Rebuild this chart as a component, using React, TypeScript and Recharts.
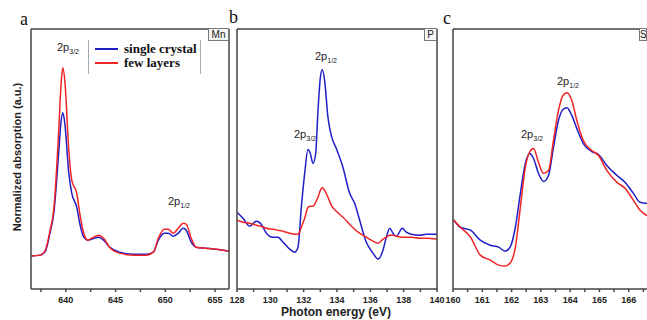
import { LineChart, Line, XAxis, YAxis, Legend } from 'recharts';

// Mn L-edge (panel a)
const mnEnergy = [636.5, 637.4, 637.9, 638.4, 638.8, 639.3, 639.5, 639.7, 639.9, 640.3, 640.6, 641.1, 641.4, 641.8, 642.2, 642.6, 643.3, 643.8, 644.4, 645.4, 646.8, 648.1, 648.8, 649.3, 649.9, 650.3, 650.8, 651.3, 651.8, 652.1, 652.6, 653.1, 654.1, 655.1, 656.4];
const mnSingle = [33, 34, 37, 56, 77, 139, 166, 177, 166, 116, 96, 82, 66, 52, 49, 50, 52, 49, 42, 37, 35, 35, 37, 49, 56, 56, 53, 56, 61, 59, 47, 42, 41, 40, 38];
const mnFew = [33, 34, 38, 58, 81, 162, 202, 222, 209, 139, 109, 96, 76, 56, 49, 51, 54, 51, 42, 36, 34, 34, 37, 51, 60, 60, 56, 61, 66, 65, 51, 42, 41, 40, 38];

// P L-edge (panel b)
const pEnergy = [128, 128.36, 128.76, 129.16, 129.46, 129.76, 130.16, 130.46, 130.76, 131.16, 131.46, 131.66, 131.86, 132.06, 132.26, 132.4, 132.56, 132.72, 132.86, 133.0, 133.12, 133.26, 133.46, 133.66, 133.96, 134.36, 134.76, 135.06, 135.36, 135.76, 136.16, 136.46, 136.76, 136.96, 137.16, 137.36, 137.56, 137.92, 138.16, 138.46, 138.96, 139.36, 140];
const pSingle = [77, 71, 63, 68, 65, 56, 52, 52, 47, 40, 37, 42, 82, 116, 140, 136, 126, 136, 179, 212, 220, 209, 172, 154, 141, 122, 96, 86, 69, 47, 36, 30, 39, 52, 61, 56, 53, 61, 57, 55, 54, 55, 55];
const pFew = [69, 67, 66, 64, 63, 61, 60, 59, 58, 56, 55, 55, 62, 71, 82, 83, 83, 87, 92, 99, 102, 99, 92, 84, 78, 72, 65, 60, 56, 52, 48, 46, 50, 52, 54, 54, 53, 52, 52, 52, 51, 51, 50];

// S L-edge (panel c)
const sEnergy = [160, 160.25, 160.6, 160.93, 161.27, 161.56, 161.78, 161.95, 162.13, 162.3, 162.47, 162.61, 162.75, 162.92, 163.09, 163.26, 163.43, 163.6, 163.75, 163.89, 164.06, 164.23, 164.45, 164.74, 164.97, 165.25, 165.6, 165.88, 166.16, 166.39, 166.61, 167];
const sSingle = [70, 62, 59, 49, 44, 42, 38, 42, 62, 96, 126, 136, 131, 116, 108, 114, 142, 169, 180, 182, 174, 161, 146, 138, 135, 124, 114, 107, 96, 87, 86, 85];
const sFew = [70, 62, 52, 34, 29, 24, 23, 26, 42, 82, 122, 137, 141, 127, 116, 119, 149, 179, 194, 197, 189, 169, 149, 139, 134, 119, 107, 101, 89, 79, 74, 71];

// axis ticks (minor ticks carry no label)
const mnTicks = [637.5, 640, 642.5, 645, 647.5, 650, 652.5, 655];
const mnLabels = [640, 645, 650, 655];
const pTicks = [128, 129, 130, 131, 132, 133, 134, 135, 136, 137, 138, 139, 140];
const pLabels = [128, 130, 132, 134, 136, 138, 140];
const sTicks = [160, 160.5, 161, 161.5, 162, 162.5, 163, 163.5, 164, 164.5, 165, 165.5, 166, 166.5, 167];
const sLabels = [160, 161, 162, 163, 164, 165, 166];

const seriesNames = ['single crystal', 'few layers'];
const BLUE = '#1f1fc8';
const RED = '#f02424';
const FRAME = '#444';
const SANS = 'Arial, "Liberation Sans", sans-serif';
const SERIF = '"Times New Roman", "Liberation Serif", serif';

type PanelProps = {
  energy: number[];
  single: number[];
  few: number[];
  domain: [number, number];
  ticks: number[];
  labels: number[];
  left: number;
  width: number;
  margin: { left: number; right: number };
  legend?: boolean;
};

function LegendBox() {
  return (
    <div
      style={{
        borderLeft: '1px solid #aaa',
        borderRight: '1px solid #aaa',
        padding: '2px 0 4px 6px',
        fontFamily: SERIF,
        fontWeight: 'bold',
        fontSize: 13,
        lineHeight: '14px',
        color: '#111',
      }}
    >
      {seriesNames.map((name, i) => (
        <div key={name} style={{ display: 'flex', alignItems: 'center' }}>
          <span style={{ display: 'inline-block', width: 23, height: 2, background: i === 0 ? BLUE : RED, marginRight: 6 }} />
          {name}
        </div>
      ))}
    </div>
  );
}

function Panel({ energy, single, few, domain, ticks, labels, left, width, margin, legend }: PanelProps) {
  const data = energy.map((e, i) => ({ e, single: single[i], few: few[i] }));
  return (
    <div style={{ position: 'absolute', left, top: 0 }}>
      <LineChart width={width} height={320} data={data} margin={{ top: 28, right: margin.right, bottom: 0, left: margin.left }}>
        <XAxis
          dataKey="e"
          type="number"
          domain={domain}
          ticks={ticks}
          allowDataOverflow
          height={31}
          interval={0}
          stroke={FRAME}
          strokeWidth={1.5}
          axisLine
          tickLine
          tickSize={3}
          tickMargin={5}
          tick={{ fontSize: 9, fontWeight: 'bold', fill: '#222', fontFamily: SANS }}
          tickFormatter={(v: number) => (labels.includes(v) ? String(v) : '')}
        />
        <XAxis xAxisId="top" orientation="top" type="number" domain={domain} height={1} tick={false} tickLine={false} axisLine stroke={FRAME} strokeWidth={1.5} />
        <YAxis domain={[0, 261]} width={1} tick={false} tickLine={false} axisLine stroke={FRAME} strokeWidth={1.5} />
        <YAxis yAxisId="r" orientation="right" domain={[0, 261]} width={1} tick={false} tickLine={false} axisLine stroke={FRAME} strokeWidth={1.5} />
        {legend && (
          <Legend
            layout="vertical"
            align="center"
            verticalAlign="middle"
            wrapperStyle={{ left: 88, top: 40, width: 113 }}
            content={() => <LegendBox />}
          />
        )}
        <Line name={seriesNames[0]} dataKey="single" type="monotone" stroke={BLUE} strokeWidth={1.5} dot={false} isAnimationActive={false} />
        <Line name={seriesNames[1]} dataKey="few" type="monotone" stroke={RED} strokeWidth={1.5} dot={false} isAnimationActive={false} />
      </LineChart>
    </div>
  );
}

function Peak({ x, y, sub }: { x: number; y: number; sub: string }) {
  return (
    <div style={{ position: 'absolute', left: x, top: y, fontFamily: SANS, fontSize: 11, color: '#222', whiteSpace: 'nowrap' }}>
      2p<span style={{ fontSize: 7, position: 'relative', top: 3 }}>{sub}</span>
    </div>
  );
}

function Tag({ x, w, text }: { x: number; w: number; text: string }) {
  return (
    <div
      style={{
        position: 'absolute', left: x, top: 28, width: w, height: 13, border: '1px solid #777', background: '#f6f6f6',
        fontFamily: SANS, fontSize: 10, lineHeight: '12px', textAlign: 'center', color: '#222', boxSizing: 'border-box',
        overflow: 'hidden',
      }}
    >
      {text}
    </div>
  );
}

function Letter({ x, y, text }: { x: number; y: number; text: string }) {
  return (
    <div style={{ position: 'absolute', left: x, top: y, fontFamily: SERIF, fontSize: 18, lineHeight: '18px', color: '#111' }}>{text}</div>
  );
}

export default function App() {
  return (
    <div style={{ position: 'absolute', left: 0, top: 0, width: 647, height: 320, overflow: 'hidden', background: '#fff' }}>
      <Panel energy={mnEnergy} single={mnSingle} few={mnFew} domain={[636.5, 656.4]} ticks={mnTicks} labels={mnLabels}
        left={0} width={240} margin={{ left: 30, right: 10 }} legend />
      <Panel energy={pEnergy} single={pSingle} few={pFew} domain={[128, 140]} ticks={pTicks} labels={pLabels}
        left={225} width={227} margin={{ left: 11, right: 14 }} />
      <Panel energy={sEnergy} single={sSingle} few={sFew} domain={[160, 167]} ticks={sTicks} labels={sLabels}
        left={440} width={230} margin={{ left: 12, right: 11 }} />

      <Letter x={20} y={10} text="a" />
      <Letter x={229} y={8} text="b" />
      <Letter x={443} y={9} text="c" />

      <Tag x={208} w={21} text="Mn" />
      <Tag x={424} w={13} text="P" />
      <Tag x={639} w={8} text="S" />

      <Peak x={57} y={41} sub="3/2" />
      <Peak x={168} y={195} sub="1/2" />
      <Peak x={315} y={50} sub="1/2" />
      <Peak x={294} y={128} sub="3/2" />
      <Peak x={557} y={75} sub="1/2" />
      <Peak x={521} y={128} sub="3/2" />

      <div style={{ position: 'absolute', left: 0, top: 305, width: 672, textAlign: 'center', fontFamily: SANS, fontWeight: 'bold', fontSize: 12, color: '#222' }}>
        Photon energy (eV)
      </div>
      <div
        style={{
          position: 'absolute', left: 17, top: 157, transform: 'translate(-50%, -50%) rotate(-90deg)', whiteSpace: 'nowrap',
          fontFamily: SANS, fontWeight: 'bold', fontSize: 11, color: '#222',
        }}
      >
        Normalized absorption (a.u.)
      </div>
    </div>
  );
}
